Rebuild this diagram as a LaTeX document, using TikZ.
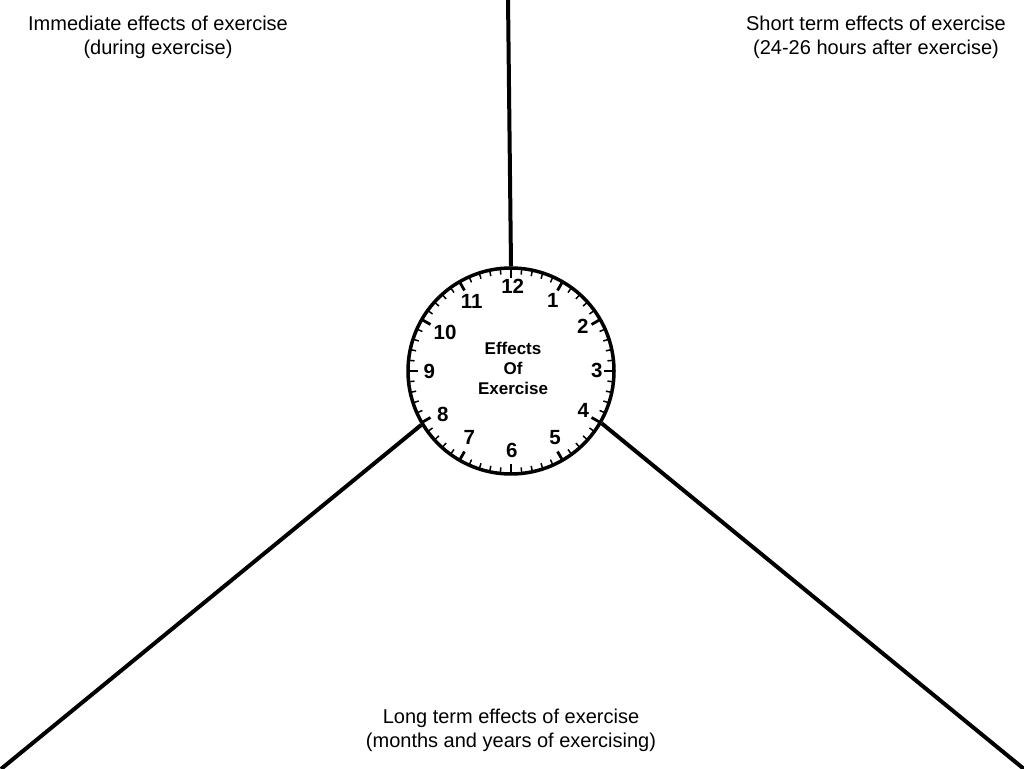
\documentclass[tikz,border=0pt]{standalone}
\usepackage{fontspec}
\setmainfont{Liberation Sans}
\usetikzlibrary{calc}
\begin{document}
\begin{tikzpicture}[x=1pt,y=1pt,
  spoke/.style={line width=4pt, line cap=butt},
  caption/.style={align=center, font=\fontsize{20}{24}\selectfont, inner sep=0pt},
  hournum/.style={font=\bfseries\fontsize{20.5}{22}\selectfont, inner sep=0pt},
  centertext/.style={align=center, font=\bfseries\fontsize{17}{20}\selectfont, inner sep=0pt},
  minortick/.style={line width=1.5pt},
  majortick/.style={line width=2.8pt}]
\useasboundingbox (0,0) rectangle (1024,768);
\fill[white] (0,0) rectangle (1024,768);
% clock
\coordinate (c) at (511,397);
\node[circle, draw, line width=3.5pt, minimum size=206pt, inner sep=0pt] (clock) at (c) {};
\foreach \i in {0,...,59}{
  \pgfmathtruncatemacro{\m}{mod(\i,5)}
  \ifnum\m=0
    \draw[majortick] ($(c)+(\i*6:93)$) -- ($(c)+(\i*6:103)$);
  \else
    \draw[minortick] ($(c)+(\i*6:97)$) -- ($(c)+(\i*6:103)$);
  \fi
}
\node[hournum] (h12) at (512.7,481.3) {12};
\node[hournum] (h1) at (552.7,468) {1};
\node[hournum] (h2) at (582.7,441.3) {2};
\node[hournum] (h3) at (596.7,398) {3};
\node[hournum] (h4) at (583.3,358) {4};
\node[hournum] (h5) at (555,330.3) {5};
\node[hournum] (h6) at (511.7,318) {6};
\node[hournum] (h7) at (469.3,330.3) {7};
\node[hournum] (h8) at (442.7,353.7) {8};
\node[hournum] (h9) at (429.3,397) {9};
\node[hournum] (h10) at (445,435.7) {10};
\node[hournum] (h11) at (471.7,466.3) {11};
\node[centertext] (ctr) at (513,400) {Effects\\Of\\Exercise};
% spokes
\coordinate (topend) at (508,770);
\coordinate (blend) at (1,-1);
\coordinate (brend) at (1024,-1);
\draw[spoke] (clock.north) -- (topend);
\draw[spoke] (clock.211) -- (blend);
\draw[spoke] (clock.-30) -- (brend);
% captions
\node[caption] (tl) at (158,731) {Immediate effects of exercise\\(during exercise)};
\node[caption] (tr) at (876,731) {Short term effects of exercise\\(24-26 hours after exercise)};
\node[caption] (bt) at (511,38) {Long term effects of exercise\\(months and years of exercising)};
\end{tikzpicture}
\end{document}
